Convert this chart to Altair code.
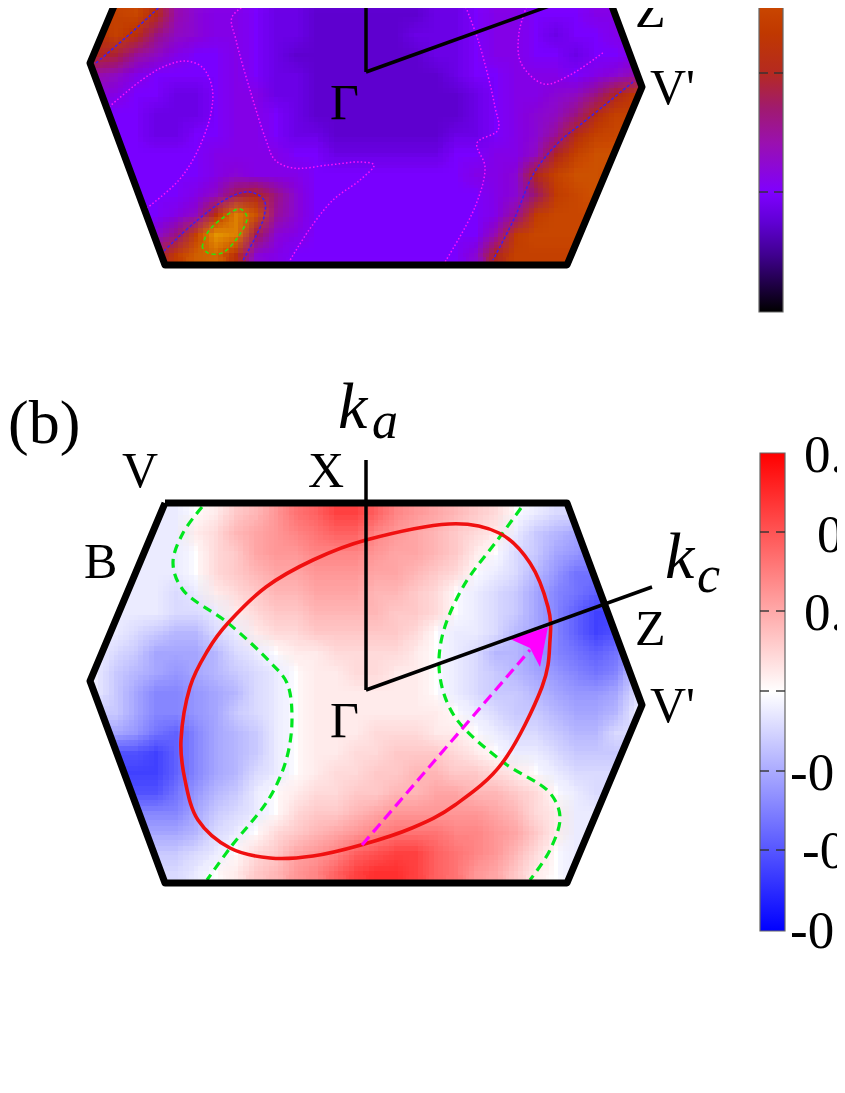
import altair as alt
import pandas as pd

# ---------- heat map readings ----------
GRID_X = [96,116,136,156,176,196,216,236,256,276,296,316,336,356,376,396,416,436,456,476,496,516,536,556,576,596,616,636]
ROWS_B_Y = [513,533,553,573,593,613,633,653,673,693,713,733,753,773,793,813,833,853,873]
ROWS_A_Y = [15,35,55,75,95,115,135,155,175,195,215,235,255]

# panel (b): thousandths, blue negative, red positive
HEAT_B = [
[-1,-1,-1,-1,-1,0,1,3,4,6,8,9,11,11,9,7,6,5,4,3,2,0,-1,-2,-2,-2,-2,-2],
[-1,-1,-1,-1,-1,1,2,4,5,6,7,8,9,9,7,6,5,4,3,2,1,-1,-3,-4,-5,-5,-5,-5],
[-1,-1,-1,-1,-1,0,2,3,5,6,6,7,7,7,6,5,5,4,3,1,0,-2,-3,-5,-6,-7,-7,-7],
[-1,-1,-1,-1,-1,0,2,3,4,5,5,6,6,6,5,5,4,3,2,0,-1,-2,-4,-6,-8,-8,-8,-8],
[-1,-1,-1,-1,-2,-1,1,2,3,4,4,5,5,5,4,4,3,2,0,-1,-2,-3,-5,-7,-8,-9,-9,-9],
[-1,-1,-1,-1,-2,-2,-1,1,2,3,3,4,4,4,4,3,3,2,0,-1,-2,-3,-5,-7,-9,-11,-11,-11],
[-1,-1,-2,-3,-4,-4,-2,-1,1,2,2,3,3,3,3,3,2,0,-1,-1,-2,-4,-5,-7,-9,-11,-10,-10],
[-1,-2,-3,-5,-5,-5,-4,-2,-1,0,1,1,2,2,2,2,1,0,-1,-2,-4,-4,-6,-7,-8,-9,-8,-6],
[-1,-3,-4,-5,-6,-5,-4,-3,-2,-1,0,1,1,2,2,1,1,0,-1,-2,-3,-4,-5,-6,-7,-8,-7,-3],
[-1,-3,-5,-7,-7,-6,-5,-4,-2,-1,0,1,1,1,1,1,1,0,-1,-2,-3,-3,-4,-5,-6,-6,-5,-2],
[-3,-3,-5,-7,-7,-6,-5,-3,-2,-1,0,1,1,1,1,1,1,1,0,-1,-2,-3,-3,-4,-5,-5,-4,-1],
[-5,-5,-6,-8,-9,-7,-5,-4,-3,-1,0,1,1,1,2,2,2,1,1,0,-1,-2,-2,-3,-4,-4,-2,-2],
[-10,-10,-10,-11,-9,-7,-5,-4,-3,-1,0,1,1,2,2,3,3,3,2,1,0,-1,-1,-2,-3,-3,-3,-3],
[-11,-11,-11,-11,-9,-7,-5,-4,-2,-1,0,1,2,2,3,3,4,4,3,3,2,1,0,-1,-2,-2,-2,-2],
[-10,-10,-10,-10,-8,-6,-4,-3,-1,0,1,2,2,3,3,4,4,5,5,4,4,3,2,0,-1,-2,-2,-2],
[-7,-7,-7,-7,-7,-5,-3,-2,-1,0,2,3,3,4,5,6,6,6,6,6,5,4,2,1,-1,-1,-1,-1],
[-5,-5,-5,-5,-5,-4,-2,-1,0,2,3,4,5,6,7,8,8,8,7,7,6,5,3,1,-1,-1,-1,-1],
[-3,-3,-3,-3,-3,-2,-1,0,2,3,5,6,7,9,10,11,11,9,8,7,6,4,2,0,-1,-1,-1,-1],
[-2,-2,-2,-2,-2,-1,0,1,3,4,6,7,9,11,12,12,11,9,8,6,5,3,1,0,-1,-1,-1,-1],
]

# panel (a): readings on the colour bar, tenths of a tick step
HEAT_A = [
[25,25,26,21,14,12,11,11,10,9,9,8,8,8,8,8,8,9,9,10,11,11,10,10,10,11,11,11],
[22,25,22,16,13,12,11,11,10,9,9,8,8,8,8,8,9,9,9,10,11,11,10,9,10,10,11,11],
[20,19,15,13,11,10,10,11,10,9,8,8,8,8,8,8,8,9,9,10,11,11,10,10,9,10,10,11],
[14,13,11,10,10,10,10,11,10,9,9,8,8,8,8,8,8,8,9,10,10,11,11,11,10,11,12,14],
[12,11,10,10,9,9,10,11,11,9,9,8,8,8,8,8,8,8,8,9,10,11,11,12,13,16,20,24],
[10,10,10,9,9,9,10,11,11,10,9,8,8,8,8,8,8,8,8,9,10,11,12,13,16,21,25,25],
[10,10,10,9,9,10,10,11,11,10,9,9,8,8,8,8,8,8,9,9,10,11,12,15,21,25,26,26],
[10,10,10,10,10,10,11,11,11,11,10,10,9,9,9,9,9,9,10,10,11,11,13,20,25,27,27,26],
[10,10,10,10,10,10,11,12,11,11,11,10,10,10,10,10,10,10,10,11,11,12,20,25,27,27,26,26],
[10,10,10,10,10,11,13,18,20,16,12,10,10,10,10,10,10,10,10,10,11,12,17,24,26,27,26,26],
[10,10,10,10,11,13,22,31,27,15,12,10,10,10,10,10,10,10,10,10,11,15,24,26,26,26,26,26],
[10,10,10,12,16,25,33,31,18,12,11,10,10,10,10,10,10,10,10,10,14,24,26,26,26,26,26,26],
[11,11,12,18,24,28,29,22,12,11,10,10,10,10,10,10,10,10,10,12,20,25,25,25,25,25,25,25],
]

# ---------- colour scales ----------
B_DOMAIN = [-15, 0, 15]
B_RANGE = ["#0000ff", "#ffffff", "#ff0000"]
A_DOMAIN = [0, 5, 8, 10, 14, 17, 20, 23, 26, 33]
A_RANGE = ["#000000", "#400090", "#6000d4", "#7f00ff", "#9a10b0", "#a01a70", "#b52a20", "#c03800", "#cc4a00", "#e89800"]
BAR_A_STOPS = [(0,"#000000"),(0.16,"#400090"),(0.25,"#6000d4"),(0.333,"#7f00ff"),(0.47,"#9a10b0"),(0.566,"#a01a70"),(0.667,"#b52a20"),(0.777,"#c03800"),(0.87,"#cc4a00"),(1,"#d06000")]
BAR_B_STOPS = [(0,"#0000ff"),(0.5,"#ffffff"),(1,"#ff0000")]

# ---------- geometry ----------
HEX_B_X = [165,567,642,567,165,90,165]
HEX_B_Y = [503,503,705,883,883,681,503]
HEX_A_Y = [-115,-115,87,265,265,63,-115]

ELLIPSE_X = [366,449,499,530,548,550,542,503,455,412,361,313,270,230,198,185,181,190,208,228,266,313]
ELLIPSE_Y = [540,524,533,563,607,640,687,762,805,828,845,856,858,848,820,780,740,687,650,623,587,560]
GREEN_L_X = [202,183,173,183,228,270,287,292,287,270,230,207]
GREEN_L_Y = [507,533,563,590,623,662,683,717,757,797,848,880]
GREEN_R_X = [521,499,463,442,440,455,503,550,560,550,530]
GREEN_R_Y = [508,538,587,637,677,717,762,793,817,850,880]
ARROW_X = [362,530]
ARROW_Y = [845,650]
HEAD_X = [510,530,540,548]
HEAD_TOP = [639,632.7,629.5,627]
HEAD_BOT = [639,648,667,627]

MAG_CONTOURS = [
 ([109,139,163,185,202,212,211,198,179,147],[107,82,67,61,67,87,113,150,180,208]),
 ([254,232,236,250,266,275,293,329,360,374,360,333,309,289],[0,17,40,90,140,160,168,165,162,165,180,200,230,262]),
 ([463,479,495,498,477,485,475,445],[0,43,107,130,143,167,207,262]),
 ([529,519,521,544,570,604],[0,33,63,84,75,52]),
]
BLUE_CONTOURS = [
 ([96,131,167],[63,33,0]),
 ([633,590,558,534,515,493],[82,117,143,173,217,260]),
 ([164,194,230,250,264,264,242],[251,223,197,192,200,217,262]),
]
GREEN_BLOB_X = [202,208,224,240,247,238,222,208,202]
GREEN_BLOB_Y = [247,232,217,209,217,237,253,253,247]

AXIS_B_X = [366,366]; AXIS_B_Y = [460,690]
AXIS_B2_X = [366,652]; AXIS_B2_Y = [690,587]
AXIS_A_Y = [-158,72]
AXIS_A2_Y = [72,-31]

LABELS = [
 ("(b)",8,443,62,"normal"),("V",122,487,50,"normal"),("X",308,487,50,"normal"),("B",84,578,50,"normal"),
 ("Z",635,645,50,"normal"),("V'",650,722,50,"normal"),("Γ",330,737,50,"normal"),
 ("Z",635,27,50,"normal"),("V'",650,104,50,"normal"),("Γ",330,119,50,"normal"),
 ("k",338,428,66,"italic"),("a",372,438,52,"italic"),("k",665,578,66,"italic"),("c",697,592,52,"italic"),
 ("0.015",804,472,53,"normal"),("0.01",817,552,53,"normal"),("0.005",804,630,53,"normal"),("0",842,710,53,"normal"),
 ("-0.005",790,790,53,"normal"),("-0.01",802,868,53,"normal"),("-0.015",790,948,53,"normal"),
]
BAR_B = dict(x=760,x2=785,y=453,y2=931)
BAR_A = dict(x=759,x2=783,y=-47,y2=312)
TICKS_B = [532,611,691,771,850]
TICKS_A = [73,192]
SOFTEN = [-8,-3,3,8]   # the same readings are overdrawn at these shifts to soften cell edges

# ---------- helpers ----------
XS = alt.Scale(domain=[8,837], nice=False, zero=False)
YS = alt.Scale(domain=[1078,8], nice=False, zero=False)
X = alt.X("x:Q", scale=XS, axis=None)
Y = alt.Y("y:Q", scale=YS, axis=None)

def line(xs, ys, color, width, dash=None, interp="linear", cap="butt", join="miter"):
    df = pd.DataFrame({"x": xs, "y": ys, "i": range(len(xs))})
    kw = dict(color=color, strokeWidth=width, interpolate=interp, strokeCap=cap, strokeJoin=join)
    if dash:
        kw["strokeDash"] = dash
    return alt.Chart(df).mark_line(**kw).encode(x=X, y=Y, order="i:Q")

def heat_copy(rows, ys, field, dom, rng, dx, dy, op):
    recs = []
    for r, yc in zip(rows, ys):
        for v, xc in zip(r, GRID_X):
            recs.append({"x": xc-10+dx, "x2": xc+10+dx, "y": yc-10+dy, "y2": yc+10+dy, field: v})
    return alt.Chart(pd.DataFrame(recs)).mark_rect(opacity=op).encode(
        x=X, x2="x2:Q", y=Y, y2="y2:Q",
        color=alt.Color(f"{field}:Q", scale=alt.Scale(domain=dom, range=rng, interpolate="rgb"), legend=None))

def heat(rows, ys, field, dom, rng):
    out = [heat_copy(rows, ys, field, dom, rng, 0, 0, 1)]
    k = 2
    for dy in SOFTEN:
        for dx in SOFTEN:
            out.append(heat_copy(rows, ys, field, dom, rng, dx, dy, round(1/k, 4)))
            k += 1
    return out

def mask(xs, y1, y2):
    df = pd.DataFrame({"x": xs, "y": y1, "y2": y2})
    return alt.Chart(df).mark_area(color="white", orient="vertical").encode(x=X, y=Y, y2="y2:Q")

def masks(dy):
    return [
        mask([74,90,165],[485+dy]*3,[681+dy,681+dy,503+dy]),
        mask([74,90,165],[681+dy,681+dy,883+dy],[900+dy]*3),
        mask([567,642,658],[485+dy]*3,[503+dy,705+dy,705+dy]),
        mask([567,642,658],[883+dy,705+dy,705+dy],[900+dy]*3),
        mask([165,567],[485+dy]*2,[503+dy]*2),
        mask([165,567],[883+dy]*2,[900+dy]*2),
    ]

def bar(b, stops, ticks):
    grad = alt.Gradient(gradient="linear", x1=0, x2=0, y1=1, y2=0,
                        stops=[alt.GradientStop(color=c, offset=o) for o, c in stops])
    ch = [alt.Chart(pd.DataFrame([b])).mark_rect(fill=grad, stroke="#666666", strokeWidth=1.2).encode(x=X, x2="x2:Q", y=Y, y2="y2:Q")]
    for t in ticks:
        ch.append(line([b["x"], b["x"]+9], [t, t], "#333333", 1.4))
        ch.append(line([b["x2"]-9, b["x2"]], [t, t], "#333333", 1.4))
    return ch

layers = heat(HEAT_A, ROWS_A_Y, "va", A_DOMAIN, A_RANGE) + heat(HEAT_B, ROWS_B_Y, "vb", B_DOMAIN, B_RANGE) + masks(0) + masks(-618)

for xs, ys in MAG_CONTOURS:
    layers.append(line(xs, ys, "#ff10ff", 1.5, [1.5,2.2], "catmull-rom"))
for xs, ys in BLUE_CONTOURS:
    layers.append(line(xs, ys, "#3a20f0", 1.5, [3,2], "catmull-rom"))
layers.append(line(GREEN_BLOB_X, GREEN_BLOB_Y, "#30e010", 1.6, [4,3], "catmull-rom"))

layers += [
    line(GREEN_L_X, GREEN_L_Y, "#00e61e", 3.2, [9,6], "catmull-rom"),
    line(GREEN_R_X, GREEN_R_Y, "#00e61e", 3.2, [9,6], "catmull-rom"),
    line(ELLIPSE_X, ELLIPSE_Y, "#f01010", 3.6, None, "cardinal-closed"),
    line(ARROW_X, ARROW_Y, "#ff00ff", 3.2, [11,6]),
    alt.Chart(pd.DataFrame({"x": HEAD_X, "y": HEAD_TOP, "y2": HEAD_BOT})).mark_area(color="#ff00ff", orient="vertical").encode(x=X, y=Y, y2="y2:Q"),
    line(HEX_B_X, HEX_B_Y, "#000000", 7, join="round"),
    line(HEX_B_X, HEX_A_Y, "#000000", 7, join="round"),
    line(AXIS_B_X, AXIS_B_Y, "#000000", 3.5),
    line(AXIS_B2_X, AXIS_B2_Y, "#000000", 3.5),
    line(AXIS_B_X, AXIS_A_Y, "#000000", 3.5),
    line(AXIS_B2_X, AXIS_A2_Y, "#000000", 3.5),
]
layers += bar(BAR_A, BAR_A_STOPS, TICKS_A) + bar(BAR_B, BAR_B_STOPS, TICKS_B)

for t, x, y, s, st in LABELS:
    layers.append(alt.Chart(pd.DataFrame({"x":[x],"y":[y],"t":[t]})).mark_text(
        font="Liberation Serif", fontSize=s, fontStyle=st, align="left", baseline="alphabetic", color="#000000"
    ).encode(x=X, y=Y, text="t:N"))

chart = alt.layer(*layers).resolve_scale(color="independent").properties(
    width=829, height=1070, padding=0, background="white",
    autosize=alt.AutoSizeParams(type="none"),
).configure_view(stroke=None)

chart.save("out.html", embed_options={"renderer": "svg", "actions": False})
